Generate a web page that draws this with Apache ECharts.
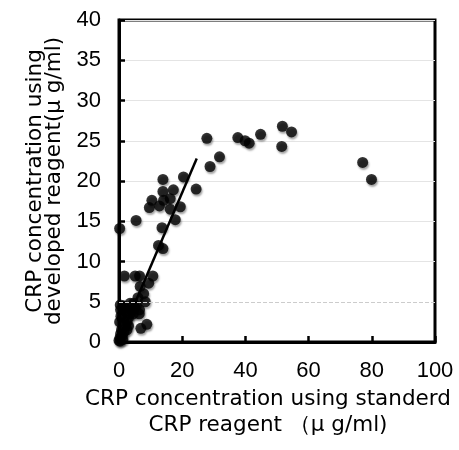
<!DOCTYPE html>
<html style="height: 100%">
<head>
<meta charset="utf-8">
<script src="https://cdn.jsdelivr.net/npm/echarts@6/dist/echarts.min.js"></script>
</head>
<body style="height: 100%; margin: 0; background: #fff">
<div id="container" style="width: 459px; height: 450px"></div>
<script type="text/javascript">
// standard reagent (x) vs developed reagent (y), ug/ml
var stdVals = [0.2, 5.4, 1.7, 5.1, 6.5, 10.7, 9.4, 6.7, 7.8, 8.3, 4.6, 6.4, 6.9, 8.8,
    12.5, 13.9, 13.6, 17.8, 9.6, 10.4, 12.8, 13.9, 13.9, 14.1, 16.2, 17.2, 16.2, 19.4, 20.4, 24.4,
    27.8, 28.8, 31.8, 37.6, 39.9, 41.2, 44.8, 51.7, 54.6, 51.5, 77.1, 79.9,
    0.0, 0.3, 0.5, 1.0, 0.8, 1.5, 2.0, 0.2, 1.0, 2.5, 3.0, 0.5, 1.5, 3.5, 4.0, 2.0, 0.3, 1.2,
    2.5, 3.0, 4.5, 5.0, 5.5, 6.0, 3.5, 6.5, 0.4, 1.8, 0.6];
var devVals = [14.1, 15.1, 8.2, 8.2, 8.2, 8.2, 7.3, 6.9, 6.0, 5.0, 4.8, 3.5, 1.7, 2.2,
    12.0, 11.6, 14.2, 15.2, 16.7, 17.6, 16.9, 18.7, 20.2, 17.6, 17.8, 18.9, 16.5, 16.8, 20.5, 19.0,
    25.3, 21.8, 23.0, 25.4, 25.0, 24.7, 25.8, 26.8, 26.1, 24.3, 22.3, 20.2,
    0.2, 0.5, 1.0, 0.8, 1.5, 1.2, 2.0, 2.5, 3.0, 2.5, 3.0, 4.0, 4.5, 3.5, 4.0, 3.8, 0.1, 0.3,
    1.5, 2.0, 3.5, 4.2, 4.5, 5.5, 4.8, 4.0, 4.6, 4.2, 3.2];
// fitted line end points
var fitX = [0, 24.6];
var fitY = [0.2, 22.8];
var yTicks = [0, 5, 10, 15, 20, 25, 30, 35, 40];

var myChart = echarts.init(document.getElementById('container'));
var pts = stdVals.map(function (x, i) { return [x, devVals[i]]; });
var fit = fitX.map(function (x, i) { return [x, fitY[i]]; });
var font = 'Liberation Sans, Arial, sans-serif';
var titleFont = 'DejaVu Sans, sans-serif';

// gridline at 5 is drawn dashed separately
var splitColors = yTicks.map(function (v) { return v === 5 ? 'transparent' : '#e4e4e4'; });

var option = {
    animation: false,
    grid: {
        left: 119, right: 24, top: 20, bottom: 108,
        containLabel: false, outerBoundsMode: 'none',
        show: true, borderColor: '#000', borderWidth: 3
    },
    xAxis: {
        type: 'value', min: 0, max: 100, interval: 20,
        name: 'CRP concentration using standerd\nCRP reagent （μ g/ml)',
        nameLocation: 'middle', nameGap: 35,
        nameTextStyle: { fontFamily: titleFont, fontSize: 21.5, color: '#000', lineHeight: 26, padding: [0, 18, 0, 0] },
        axisLine: { lineStyle: { color: '#000', width: 3 } },
        axisTick: { inside: true, length: 6, lineStyle: { color: '#000', width: 2.5 } },
        axisLabel: { fontFamily: font, fontSize: 22, color: '#000', margin: 18 },
        splitLine: { show: false }
    },
    yAxis: {
        type: 'value', min: 0, max: 40, interval: 5,
        name: 'CRP concentration using\ndeveloped reagent(μ g/ml)',
        nameLocation: 'middle', nameGap: 55,
        nameTextStyle: { fontFamily: titleFont, fontSize: 21.5, color: '#000', lineHeight: 19 },
        axisLine: { lineStyle: { color: '#000', width: 3 } },
        axisTick: { inside: true, length: 6, lineStyle: { color: '#000', width: 2.5 } },
        axisLabel: { fontFamily: font, fontSize: 22, color: '#000', margin: 18 },
        splitLine: { show: true, lineStyle: { color: splitColors, width: 1 } }
    },
    series: [
        {
            type: 'scatter',
            data: pts,
            symbolSize: 11,
            itemStyle: {
                color: '#000',
                shadowColor: 'rgba(0,0,0,0.45)', shadowBlur: 2,
                shadowOffsetX: 1, shadowOffsetY: 2
            },
            markLine: {
                silent: true, symbol: 'none', label: { show: false },
                lineStyle: { color: '#ccc', type: 'dashed', width: 1 },
                data: [{ yAxis: 5 }]
            },
            z: 3
        },
        {
            type: 'line',
            data: fit,
            symbol: 'none',
            lineStyle: { color: '#000', width: 2.5 },
            z: 4
        }
    ]
};
myChart.setOption(option);
</script>
</body>
</html>
